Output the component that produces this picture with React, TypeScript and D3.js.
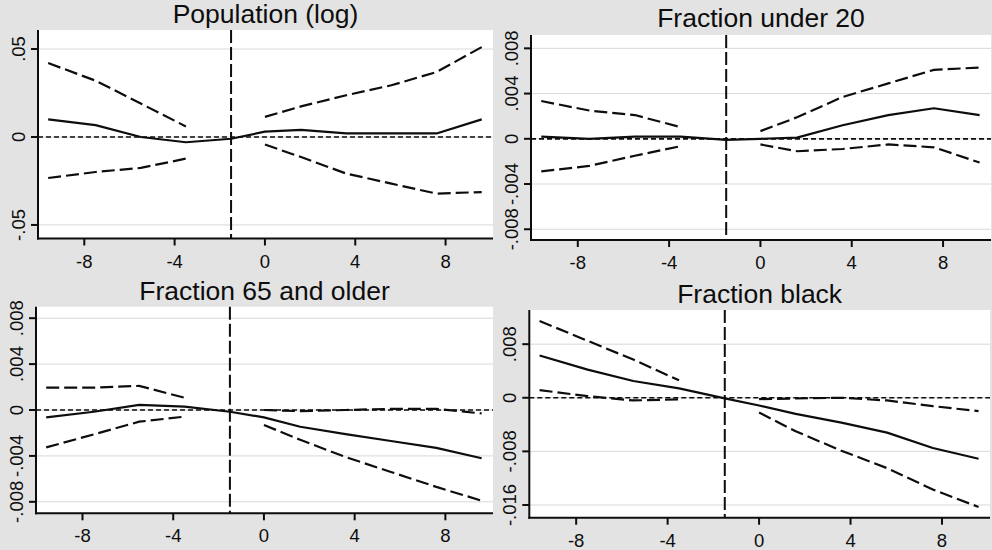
import * as d3 from "d3";

// event-time positions (years relative to event)
const xLeft = [-9.6, -7.5, -5.5, -3.5];
const xRef = -1.5;
const xRight = [0, 1.6, 3.6, 5.6, 7.6, 9.6];
const xAll = [...xLeft, xRef, ...xRight];
const xTicks = [-8, -4, 0, 4, 8];

// Population (log)
const popEst = [0.01, 0.0067, 0.0, -0.003, -0.001, 0.003, 0.004, 0.002, 0.002, 0.002, 0.01];
const popUpperLeft = [0.042, 0.032, 0.019, 0.006];
const popLowerLeft = [-0.0233, -0.0199, -0.0176, -0.0123];
const popUpperRight = [0.0114, 0.0174, 0.0237, 0.0294, 0.0369, 0.0511];
const popLowerRight = [-0.0043, -0.0114, -0.0208, -0.0265, -0.0322, -0.0313];
const popTicks = [0.05, 0, -0.05];
const popTickLabels = [".05", "0", "-.05"];

// Fraction under 20
const u20Est = [0.0002, 0.0, 0.0002, 0.0002, -0.0001, 0.0, 0.0001, 0.0012, 0.0021, 0.0027, 0.0021];
const u20UpperLeft = [0.00334, 0.0025, 0.0021, 0.00103];
const u20LowerLeft = [-0.00288, -0.0024, -0.0015, -0.00065];
const u20UpperRight = [0.00068, 0.0019, 0.0037, 0.0049, 0.0061, 0.0063];
const u20LowerRight = [-0.0005, -0.0011, -0.0009, -0.0005, -0.00075, -0.0021];
const u20Ticks = [0.008, 0.004, 0, -0.004, -0.008];
const u20TickLabels = [".008", ".004", "0", "-.004", "-.008"];

// Fraction 65 and older
const o65Est = [-0.00064, -0.00015, 0.00044, 0.0003, -0.00015, -0.00064, -0.00146, -0.0021, -0.0027, -0.0033, -0.0042];
const o65UpperLeft = [0.00195, 0.00195, 0.0021, 0.00107];
const o65LowerLeft = [-0.00326, -0.00212, -0.00102, -0.00058];
const o65UpperRight = [0.0, -0.0001, 0.0, 0.0001, 0.0001, -0.0003];
const o65LowerRight = [-0.0013, -0.0026, -0.0041, -0.0054, -0.0067, -0.0079];
const o65Ticks = [0.008, 0.004, 0, -0.004, -0.008];
const o65TickLabels = [".008", ".004", "0", "-.004", "-.008"];

// Fraction black
const blkEst = [0.0063, 0.0042, 0.0025, 0.0014, -0.0001, -0.00115, -0.0024, -0.0037, -0.0052, -0.0075, -0.0091];
const blkUpperLeft = [0.01146, 0.0085, 0.0057, 0.0026];
const blkLowerLeft = [0.00114, 0.00024, -0.0004, -0.00025];
const blkUpperRight = [-0.0002, -0.0001, 0.0, -0.0004, -0.00125, -0.002];
const blkLowerRight = [-0.0022, -0.005, -0.0079, -0.0105, -0.0137, -0.0163];
const blkTicks = [0.008, 0, -0.008, -0.016];
const blkTickLabels = [".008", "0", "-.008", "-.016"];

const FONT = "'Liberation Sans', Arial, sans-serif";
const INK = "#0d0d0d";

function Panel({ title, box, yDomain, ticks, tickLabels, est, upperLeft, lowerLeft, upperRight, lowerRight }) {
  const { left, right, top, bottom, titleY } = box;
  const x = d3.scaleLinear().domain([-10.05, 10.1]).range([left, right]);
  const y = d3.scaleLinear().domain(yDomain).range([bottom, top]);
  const line = d3
    .line()
    .x((d) => x(d[0]))
    .y((d) => y(d[1]));

  const zip = (xs, ys) => xs.map((v, i) => [v, ys[i]]);
  const ciPaths = [
    zip(xLeft, upperLeft),
    zip(xLeft, lowerLeft),
    zip(xRight, upperRight),
    zip(xRight, lowerRight),
  ];

  return (
    <g>
      <rect x={left} y={top} width={right - left} height={bottom - top} fill="#fff" />
      {ticks.map((t) => (
        <line key={"g" + t} x1={left} x2={right} y1={y(t)} y2={y(t)} stroke="#d8d8d8" strokeWidth={1} />
      ))}
      <line x1={left} x2={right} y1={y(0)} y2={y(0)} stroke={INK} strokeWidth={1.7} strokeDasharray="5 3" />
      <line x1={x(xRef)} x2={x(xRef)} y1={top} y2={bottom} stroke={INK} strokeWidth={2} strokeDasharray="13 4" />
      {ciPaths.map((p, i) => (
        <path key={i} d={line(p)} fill="none" stroke={INK} strokeWidth={2.2} strokeDasharray="13 5" />
      ))}
      <path d={line(zip(xAll, est))} fill="none" stroke={INK} strokeWidth={2.2} strokeLinejoin="round" />
      <line x1={left} x2={left} y1={top} y2={bottom + 1} stroke={INK} strokeWidth={2} />
      <line x1={left - 1} x2={right} y1={bottom} y2={bottom} stroke={INK} strokeWidth={2} />
      {ticks.map((t, i) => (
        <g key={"y" + t}>
          <line x1={left - 7} x2={left} y1={y(t)} y2={y(t)} stroke={INK} strokeWidth={2} />
          <text
            transform={`translate(${left - 13},${y(t)}) rotate(-90)`}
            textAnchor="middle"
            fontSize={18.5}
            fontFamily={FONT}
            fill={INK}
          >
            {tickLabels[i]}
          </text>
        </g>
      ))}
      {xTicks.map((t) => (
        <g key={"x" + t}>
          <line x1={x(t)} x2={x(t)} y1={bottom} y2={bottom + 7} stroke={INK} strokeWidth={2} />
          <text x={x(t)} y={bottom + 29} textAnchor="middle" fontSize={18.5} fontFamily={FONT} fill={INK}>
            {t}
          </text>
        </g>
      ))}
      <text x={(left + right) / 2} y={titleY} textAnchor="middle" fontSize={26.5} fontFamily={FONT} fill={INK}>
        {title}
      </text>
    </g>
  );
}

export default function App() {
  return (
    <svg width={992} height={550} style={{ position: "absolute", left: 0, top: 0 }}>
      <rect width={992} height={550} fill="#e3e3e3" />
      <Panel
        title="Population (log)"
        box={{ left: 38, right: 493, top: 30, bottom: 238.5, titleY: 23 }}
        yDomain={[-0.0577, 0.0608]}
        ticks={popTicks}
        tickLabels={popTickLabels}
        est={popEst}
        upperLeft={popUpperLeft}
        lowerLeft={popLowerLeft}
        upperRight={popUpperRight}
        lowerRight={popLowerRight}
      />
      <Panel
        title="Fraction under 20"
        box={{ left: 531, right: 991, top: 35, bottom: 240, titleY: 27 }}
        yDomain={[-0.00895, 0.00918]}
        ticks={u20Ticks}
        tickLabels={u20TickLabels}
        est={u20Est}
        upperLeft={u20UpperLeft}
        lowerLeft={u20LowerLeft}
        upperRight={u20UpperRight}
        lowerRight={u20LowerRight}
      />
      <Panel
        title="Fraction 65 and older"
        box={{ left: 36, right: 493, top: 306.7, bottom: 513.3, titleY: 300 }}
        yDomain={[-0.009, 0.009]}
        ticks={o65Ticks}
        tickLabels={o65TickLabels}
        est={o65Est}
        upperLeft={o65UpperLeft}
        lowerLeft={o65LowerLeft}
        upperRight={o65UpperRight}
        lowerRight={o65LowerRight}
      />
      <Panel
        title="Fraction black"
        box={{ left: 529.3, right: 990, top: 310, bottom: 517.7, titleY: 303 }}
        yDomain={[-0.0179, 0.0131]}
        ticks={blkTicks}
        tickLabels={blkTickLabels}
        est={blkEst}
        upperLeft={blkUpperLeft}
        lowerLeft={blkLowerLeft}
        upperRight={blkUpperRight}
        lowerRight={blkLowerRight}
      />
    </svg>
  );
}
